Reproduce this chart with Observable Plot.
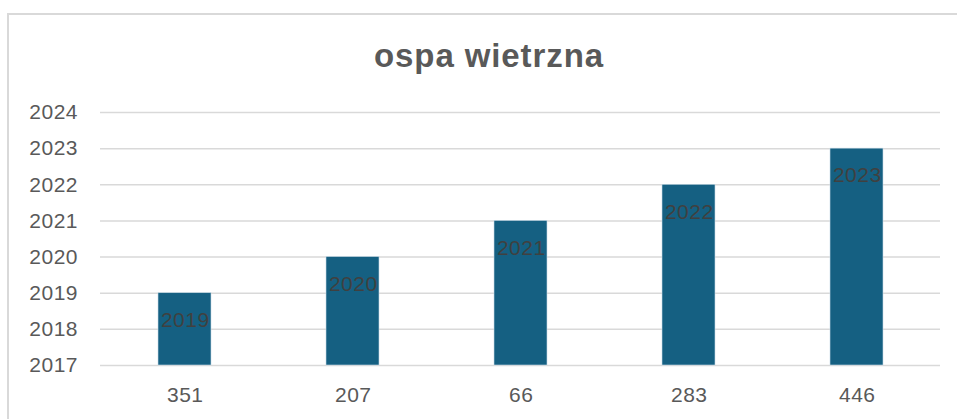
<!DOCTYPE html>
<html>
<head>
<meta charset="utf-8">
<script src="https://cdn.jsdelivr.net/npm/d3@7"></script>
<script src="https://cdn.jsdelivr.net/npm/@observablehq/plot@0.6"></script>
<style>
  html, body { margin: 0; padding: 0; background: #fff; }
  #wrap { position: relative; width: 957px; height: 419px; overflow: hidden; font-family: "Liberation Sans", Arial, sans-serif; }
  #frame { position: absolute; left: 7px; top: 12.5px; width: 1000px; height: 500px; border-top: 2px solid #d9d9d9; border-left: 2px solid #d9d9d9; box-sizing: border-box; }
  #title { position: absolute; left: 0; width: 978px; top: 37px; text-align: center; font-size: 33px; font-weight: bold; color: #595959; letter-spacing: 0.9px; }
  #chart { position: absolute; left: 0; top: 0; }
  #chart svg text { letter-spacing: 0.5px; }
</style>
</head>
<body>
<div id="wrap">
  <div id="frame"></div>
  <div id="chart"></div>
  <div id="title">ospa wietrzna</div>
</div>
<script>
const categories = ["351", "207", "66", "283", "446"];
const values = [2019, 2020, 2021, 2022, 2023];
const yTicks = [2017, 2018, 2019, 2020, 2021, 2022, 2023, 2024];
const baseline = 2017;

const data = categories.map((c, i) => ({cat: c, val: values[i]}));

const chart = Plot.plot({
  width: 957,
  height: 419,
  marginTop: 112,
  marginBottom: 54,
  marginLeft: 100,
  marginRight: 17,
  style: {fontFamily: "'Liberation Sans', Arial, sans-serif", background: "transparent", overflow: "visible"},
  x: {domain: categories, paddingInner: 0.685, paddingOuter: 0.3425, label: null},
  y: {domain: [2017, 2024], label: null},
  marks: [
    Plot.gridY(yTicks, {stroke: "#d9d9d9", strokeOpacity: 1, strokeWidth: 1.5}),
    Plot.barY(data, {x: "cat", y1: baseline, y2: "val", fill: "#156082", stroke: "#c8dbe6", strokeWidth: 0.6}),
    Plot.text(data, {x: "cat", y: "val", text: d => String(d.val), dy: 27, dx: 0.25, fill: "#404040", fontSize: 21}),
    Plot.axisY(yTicks, {tickSize: 0, tickPadding: 22.5, tickFormat: d => String(d), fontSize: 21, fill: "#595959", label: null}),
    Plot.axisX({tickSize: 0, tickPadding: 22, dx: 0.25, fontSize: 21, fill: "#595959", label: null})
  ]
});
document.getElementById("chart").appendChild(chart);
</script>
</body>
</html>
